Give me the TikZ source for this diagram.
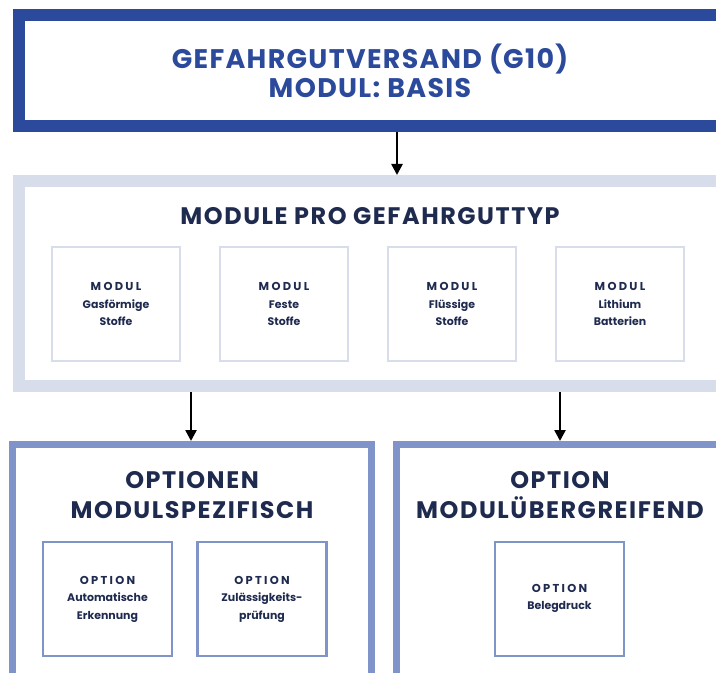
\documentclass[tikz,border=0pt]{standalone}
\usepackage{fontspec}
\setmainfont{Poppins}
\newfontfamily\bfont[LetterSpace=5]{Poppins}
\newfontfamily\tfont[LetterSpace=6.5]{Poppins}
\newfontfamily\sfont[LetterSpace=20]{Poppins}
\usetikzlibrary{arrows.meta}
\definecolor{darkb}{HTML}{2C4A9B}
\definecolor{lightb}{HTML}{D7DDEB}
\definecolor{medb}{HTML}{8094C9}
\definecolor{navy}{HTML}{1F2A4F}
\tikzset{
  box/.style={draw, rectangle, inner sep=0pt},
  topbox/.style={box, draw=darkb, line width=12bp},
  grpbox/.style={box, draw=lightb, line width=12bp},
  optgrp/.style={box, draw=medb, line width=7bp},
  modbox/.style={box, draw=lightb, line width=2.5bp, minimum width=128bp, minimum height=114bp},
  optbox/.style={box, draw=medb, line width=2.5bp, minimum width=129bp, minimum height=114bp},
  bigtitle/.style={font=\bfont\bfseries\fontsize{27}{29}\selectfont, text=darkb, align=center},
  title/.style={font=\tfont\bfseries\fontsize{24}{30}\selectfont, text=navy, align=center},
  small/.style={font=\bfseries\fontsize{11}{17.5}\selectfont, text=navy, align=center},
  arr/.style={line width=2.5bp, -{Triangle[width=11bp,length=11bp]}},
}
\newcommand{\lbl}[1]{{\sfont\fontsize{11.5}{17.5}\selectfont #1}}
\begin{document}
\begin{tikzpicture}[x=1bp,y=-1bp]
\clip (0,0) rectangle (716,673);
\fill[white] (0,0) rectangle (716,673);
% top box
\node[topbox, minimum width=721bp, minimum height=111bp] (top) at (379.5,70.5) {};
\node[bigtitle] (toptitle) at (370,71) {GEFAHRGUTVERSAND (G10)\\MODUL: BASIS};
% module group
\node[grpbox, minimum width=721bp, minimum height=205bp] (grp) at (379.5,283.5) {};
\node[title] (grptitle) at (370,216) {MODULE PRO GEFAHRGUTTYP};
\node[modbox] (m1) at (116,304) {};
\node[modbox] (m2) at (284,304) {};
\node[modbox] (m3) at (452,304) {};
\node[modbox] (m4) at (620,304) {};
\node[small] (t1) at (m1) {\lbl{MODUL}\\Gasförmige\\Stoffe};
\node[small] (t2) at (m2) {\lbl{MODUL}\\Feste\\Stoffe};
\node[small] (t3) at (m3) {\lbl{MODUL}\\Flüssige\\Stoffe};
\node[small] (t4) at (m4) {\lbl{MODUL}\\Lithium\\Batterien};
% option groups
\node[optgrp, minimum width=359bp, minimum height=256bp] (og1) at (192,572.5) {};
\node[optgrp, minimum width=344bp, minimum height=256bp] (og2) at (568.5,572.5) {};
\node[title] (og1t) at (192,495) {OPTIONEN\\MODULSPEZIFISCH};
\node[title] (og2t) at (560,495) {OPTION\\MODULÜBERGREIFEND};
\node[optbox] (o1) at (107.5,599) {};
\node[optbox] (o2) at (262,599) {};
\node[optbox] (o3) at (559.5,599) {};
\node[small] (ot1) at (o1) {\lbl{OPTION}\\Automatische\\Erkennung};
\node[small] (ot2) at (o2) {\lbl{OPTION}\\Zulässigkeits-\\prüfung};
\node[small] (ot3) at (559.5,598.5) {\lbl{OPTION}\\Belegdruck};
% arrows
\coordinate (a1) at (397,0);
\coordinate (a2) at (191,0);
\coordinate (a3) at (560,0);
\draw[arr] (top.south -| a1) -- (grp.north -| a1);
\draw[arr] (grp.south -| a2) -- (og1.north -| a2);
\draw[arr] (grp.south -| a3) -- (og2.north -| a3);
\end{tikzpicture}
\end{document}
